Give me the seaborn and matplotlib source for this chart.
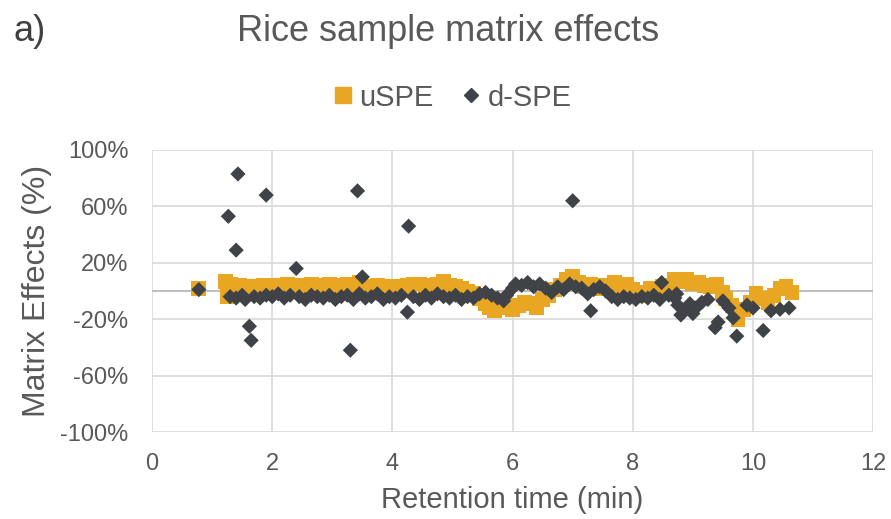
import numpy as np
import pandas as pd
import seaborn as sns
import matplotlib.pyplot as plt
from matplotlib.lines import Line2D
from matplotlib.ticker import FuncFormatter

# uSPE matrix effects (retention time in min, matrix effect in %)
uspe_rt = [0.78, 1.22, 1.25, 1.3, 1.35, 1.45, 1.55, 1.65, 1.75, 1.85, 1.95, 2.05, 2.15,
           2.25, 2.35, 2.45, 2.55, 2.65, 2.75, 2.85, 2.95, 3.05, 3.15, 3.25, 3.35, 3.45,
           3.55, 3.65, 3.75, 3.85, 3.95, 4.05, 4.15, 4.25, 4.35, 4.45, 4.55, 4.65, 4.75,
           4.85, 4.95, 5.05, 5.15, 5.25, 5.35, 5.45, 5.55, 5.62, 5.7, 5.8, 5.9, 6.0, 6.1,
           6.2, 6.3, 6.4, 6.5, 6.6, 6.7, 6.8, 6.9, 7.0, 7.1, 7.2, 7.3, 7.4, 7.5, 7.6, 7.7,
           7.8, 7.9, 8.0, 8.1, 8.2, 8.3, 8.4, 8.5, 8.6, 8.7, 8.8, 8.9, 9.0, 9.1, 9.2, 9.3,
           9.4, 9.5, 9.55, 9.65, 9.75, 9.85, 9.95, 10.05, 10.15, 10.25, 10.35, 10.45,
           10.55, 10.65]
uspe_me = [2, 7, -4, 5, 3, 4, 2, 3, 2, 4, 3, 4, 3,
           5, 4, 3, 4, 5, 3, 4, 5, 4, 3, 5, 4, 6,
           3, 2, 4, 3, 3, 2, 3, 4, 5, 5, 4, 3, 5,
           7, 4, 3, 2, 0, -2, -5, -9, -12, -14, -12, -10, -13, -10,
           -8, -9, -12, -6, -3, 1, 4, 8, 10, 6, 3, 5, 2, 4, 3, 6,
           4, 5, 1, -3, -1, 2, -2, 3, 4, 8, 7, 8, 5, 6, 4, 3,
           5, -1, -5, -10, -20, -13, -8, -2, -5, -8, -3, 2,
           3, -1]

# d-SPE matrix effects
dspe_rt = [0.78, 1.27, 1.43, 1.4, 1.9, 2.4, 1.62, 1.65, 3.42, 3.3, 3.5, 4.27, 4.25,
           7.0, 7.3, 8.48, 9.37, 9.42, 9.73, 9.67, 10.17, 9.6, 8.73,
           1.3, 1.4, 1.5, 1.55, 1.7, 1.8, 1.9, 2.0, 2.1, 2.2, 2.3, 2.45, 2.55, 2.65,
           2.75, 2.85, 2.95, 3.05, 3.15, 3.25, 3.35, 3.45, 3.55, 3.65, 3.75, 3.85,
           3.95, 4.05, 4.15, 4.35, 4.45, 4.55, 4.65, 4.75, 4.85, 4.95, 5.05, 5.15,
           5.25, 5.35, 5.45, 5.55, 5.65, 5.75, 5.85, 5.9, 6.0, 6.05, 6.15, 6.25, 6.35,
           6.45, 6.55, 6.65, 6.75, 6.85, 6.95, 7.05, 7.15, 7.25, 7.35, 7.45, 7.55,
           7.65, 7.75, 7.85, 7.95, 8.05, 8.15, 8.25, 8.35, 8.45, 8.6, 8.7, 8.75, 8.8,
           8.85, 8.95, 9.0, 9.05, 9.15, 9.25, 9.5, 9.9, 10.0, 10.3, 10.45, 10.6]
dspe_me = [1, 53, 83, 29, 68, 16, -25, -35, 71, -42, 10, 46, -15,
           64, -14, 6, -26, -22, -32, -19, -28, -12, -2,
           -4, -5, -3, -6, -4, -5, -3, -4, -2, -5, -3, -4, -6, -3,
           -4, -5, -3, -6, -4, -3, -6, -2, -5, -4, -2, -6,
           -4, -5, -3, -4, -6, -3, -5, -2, -4, -5, -3, -6,
           -4, -5, -2, -1, -3, -5, -7, -3, 2, 5, 4, 6, 3,
           5, 2, -1, 3, 1, 5, 3, 2, -2, 1, 3, 0,
           -4, -6, -4, -5, -6, -4, -5, -3, -6, -3, -5, -10, -17,
           -14, -9, -16, -12, -8, -6, -7, -10, -12, -14, -13, -12]

df = pd.concat([
    pd.DataFrame({'rt': uspe_rt, 'me': uspe_me, 'method': 'uSPE'}),
    pd.DataFrame({'rt': dspe_rt, 'me': dspe_me, 'method': 'd-SPE'}),
], ignore_index=True)

sns.set_style('white')
plt.rcParams['font.family'] = ['Liberation Sans', 'DejaVu Sans']

gray_txt = '#595959'
orange = '#E8A623'
dark = '#3F4348'

fig = plt.figure(figsize=(8.91, 5.19), dpi=100)
ax = fig.add_axes([0.1706, 0.1676, 0.8094, 0.5434])

sns.scatterplot(data=df[df.method == 'uSPE'], x='rt', y='me', marker='s', s=115,
                color=orange, edgecolor='none', linewidth=0, ax=ax, legend=False, zorder=3)
sns.scatterplot(data=df[df.method == 'd-SPE'], x='rt', y='me', marker='D', s=60,
                color=dark, edgecolor='none', linewidth=0, ax=ax, legend=False, zorder=4)

ax.set_xlim(0, 12)
ax.set_ylim(-100, 100)
ax.set_xticks(range(0, 13, 2))
ax.set_yticks([-100, -60, -20, 20, 60, 100])
ax.yaxis.set_major_formatter(FuncFormatter(lambda v, p: f'{v:.0f}%'))
ax.grid(True, color='#D9D9D9', linewidth=1.2, zorder=0)
ax.axhline(0, color='#BFBFBF', linewidth=1.5, zorder=1)
for sp in ax.spines.values():
    sp.set_visible(False)
ax.tick_params(axis='both', length=0, labelsize=17, colors=gray_txt)
ax.tick_params(axis='y', pad=17)
ax.tick_params(axis='x', pad=15)

ax.set_xlabel('Retention time (min)', fontsize=21, color=gray_txt, labelpad=8)
ax.set_ylabel('Matrix Effects (%)', fontsize=23, color=gray_txt, labelpad=6)

fig.text(0.503, 0.94, 'Rice sample matrix effects', ha='center', va='center',
         fontsize=26, color=gray_txt)
fig.text(0.015, 0.94, 'a)', ha='left', va='center', fontsize=26, color='#404040')

handles = [Line2D([], [], marker='s', linestyle='none', color=orange, markersize=11.5),
           Line2D([], [], marker='D', linestyle='none', color=dark, markersize=7.5)]
fig.legend(handles, ['uSPE', 'd-SPE'], loc='center', bbox_to_anchor=(0.505, 0.812),
           ncol=2, frameon=False, fontsize=21, handletextpad=0.05, columnspacing=0.8,
           handlelength=1.0, labelcolor=gray_txt)

fig.savefig('out.png', dpi=100)
